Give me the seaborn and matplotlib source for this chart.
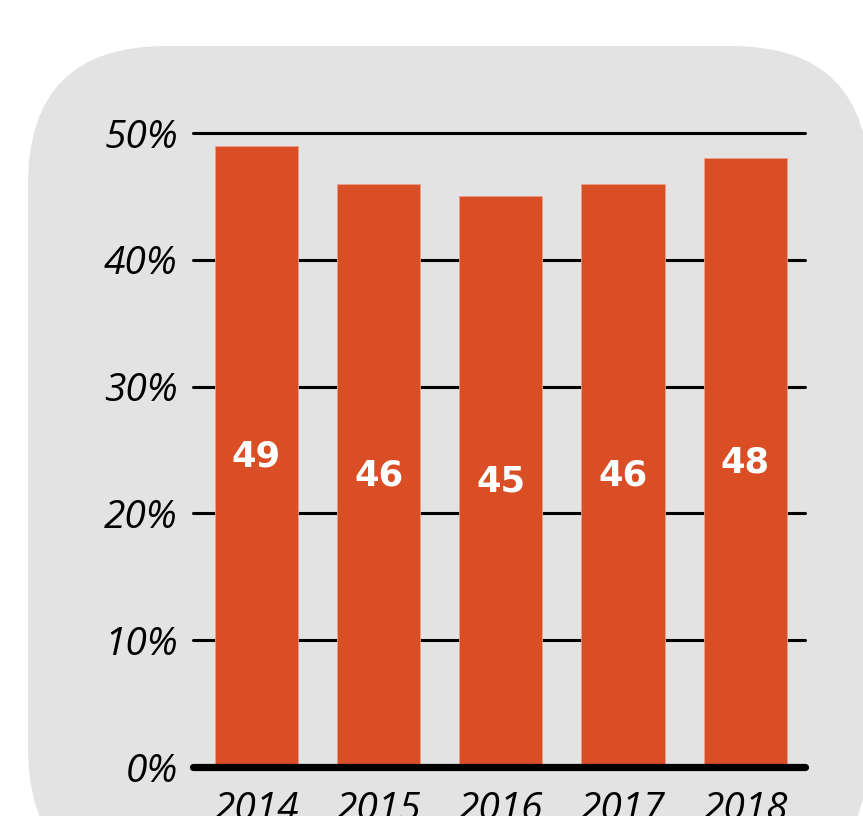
import numpy as np
import pandas as pd
import matplotlib
matplotlib.use("Agg")
import matplotlib.pyplot as plt
import seaborn as sns
from matplotlib.patches import FancyBboxPatch

# данные
years = ["2014", "2015", "2016", "2017", "2018"]
shares = [49, 46, 45, 46, 48]
yticks = [0, 10, 20, 30, 40, 50]

BAR_COLOR = "#d94e25"
BG_COLOR = "#e3e3e3"

sns.set_style("white")
plt.rcParams["font.family"] = ["Open Sans", "DejaVu Sans"]

df = pd.DataFrame({"year": years, "share": shares})

fig = plt.figure(figsize=(8.63, 8.16), dpi=100)

# скруглённый серый фон (под осями)
bg = FancyBboxPatch((0.28, -0.70), 8.41, 8.40,
                    boxstyle="round,pad=0,rounding_size=1.38",
                    transform=fig.dpi_scale_trans,
                    facecolor=BG_COLOR, edgecolor="none", zorder=-10)
fig.patches.append(bg)

ax = fig.add_axes([0.2236, 0.06, 0.7092, 0.777])
ax.set_zorder(5)
ax.set_facecolor("none")

for t in yticks[1:]:
    ax.axhline(t, color="black", lw=2.2, zorder=1, clip_on=False)

sns.barplot(data=df, x="year", y="share", color=BAR_COLOR, width=0.68,
            saturation=1, edgecolor="#e8a08a", linewidth=0.6, ax=ax, zorder=2)

ax.axhline(0, color="black", lw=5.2, zorder=3, clip_on=False)

for i, v in enumerate(shares):
    ax.text(i, v / 2, str(v), ha="center", va="center", color="white",
            fontsize=25.5, fontweight="bold", family=["DejaVu Sans"],
            zorder=4)

ax.set_xlim(-0.52, 4.49)
ax.set_ylim(0, 50)
ax.set_yticks(yticks)
ax.set_yticklabels([f"{t}%" for t in yticks], fontsize=28, style="italic",
                   color="black")
ax.set_xticks(range(len(years)))
ax.set_xticklabels(years, fontsize=28, style="italic", color="black")
ax.tick_params(axis="y", length=0, pad=11)
ax.tick_params(axis="x", length=0, pad=17)
ax.set_xlabel("")
ax.set_ylabel("")
sns.despine(ax=ax, left=True, bottom=True)

fig.savefig("out.png", dpi=100, facecolor="white")
